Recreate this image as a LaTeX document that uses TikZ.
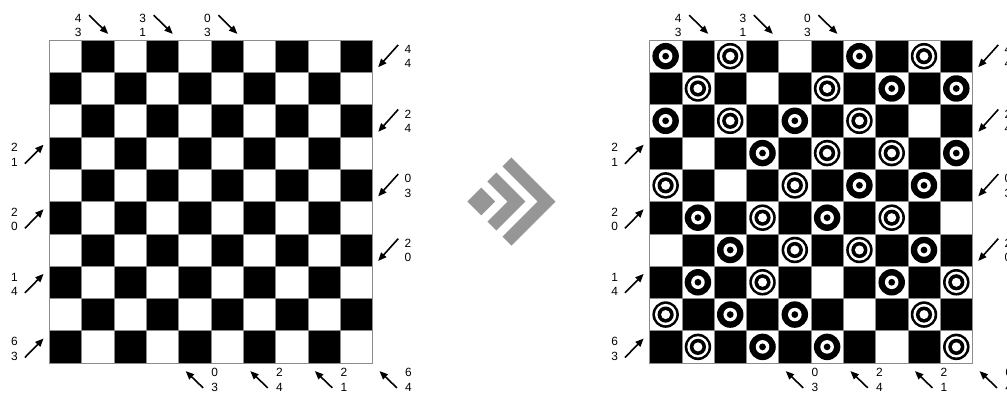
\documentclass[tikz,border=0pt]{standalone}
\usepackage{fontspec}
\setmainfont{Liberation Sans}
\usetikzlibrary{arrows.meta}
\definecolor{chevgray}{RGB}{150,150,150}
\definecolor{gridgray}{RGB}{140,140,140}

\begin{document}
\begin{tikzpicture}[
    x=1cm, y=1cm,
    cell/.style={draw=gridgray, line width=0.4pt, minimum size=1cm, inner sep=0pt, outer sep=0pt},
    darkcell/.style={cell, fill=black},
    lightcell/.style={cell, fill=white},
    digits/.style={font=\fontsize{10.5}{12.8}\selectfont, align=center, inner sep=0pt},
    arrow/.style={-{Triangle[length=2.6mm,width=2.1mm]}, line width=1.4pt},
    dotpiece/.pic={
      \fill[black] (0,0) circle (0.41);
      \fill[white] (0,0) circle (0.21);
      \fill[black] (0,0) circle (0.105);
    },
    ringpiece/.pic={
      \fill[black] (0,0) circle (0.41);
      \fill[white] (0,0) circle (0.33);
      \fill[black] (0,0) circle (0.25);
      \fill[white] (0,0) circle (0.14);
    }
  ]
  \useasboundingbox (-1.53,1.24) rectangle (29.65,-10.90);

  % the two boards with their side labels
  \foreach \bd/\ox in {L/0, R/18.58} {
    \foreach \r in {0,...,9} {
      \foreach \c in {0,...,9} {
        \pgfmathtruncatemacro\odd{mod(\r+\c,2)}
        \ifnum\odd=1
          \node[darkcell] (\bd-\r-\c) at (\ox+\c+0.5,-\r-0.5) {};
        \else
          \node[lightcell] (\bd-\r-\c) at (\ox+\c+0.5,-\r-0.5) {};
        \fi
      }
    }
    \draw[gridgray, line width=0.6pt] (\bd-0-0.north west) rectangle (\bd-9-9.south east);

    % top
    \foreach \txt [count=\i from 0] in {{4\\3},{3\\1},{0\\3}} {
      \node[digits] (\bd-top\i) at (\ox+0.89+2*\i,0.45) {\txt};
      \coordinate (\bd-top\i-a) at (\ox+1.23+2*\i,0.77);
      \coordinate (\bd-top\i-b) at (\ox+1.82+2*\i,0.19);
      \draw[arrow] (\bd-top\i-a) -- (\bd-top\i-b);
    }
    % right
    \foreach \txt [count=\i from 0] in {{4\\4},{2\\4},{0\\3},{2\\0}} {
      \node[digits] (\bd-rgt\i) at (\ox+11.1,-0.51-2*\i) {\txt};
      \coordinate (\bd-rgt\i-a) at (\ox+10.8,-0.15-2*\i);
      \coordinate (\bd-rgt\i-b) at (\ox+10.18,-0.84-2*\i);
      \draw[arrow] (\bd-rgt\i-a) -- (\bd-rgt\i-b);
    }
    % left
    \foreach \txt [count=\i from 0] in {{2\\1},{2\\0},{1\\4},{6\\3}} {
      \node[digits] (\bd-lft\i) at (\ox-1.08,-3.56-2*\i) {\txt};
      \coordinate (\bd-lft\i-a) at (\ox-0.76,-3.83-2*\i);
      \coordinate (\bd-lft\i-b) at (\ox-0.18,-3.24-2*\i);
      \draw[arrow] (\bd-lft\i-a) -- (\bd-lft\i-b);
    }
    % bottom
    \foreach \txt [count=\i from 0] in {{0\\3},{2\\4},{2\\1},{6\\4}} {
      \node[digits] (\bd-bot\i) at (\ox+5.12+2*\i,-10.52) {\txt};
      \coordinate (\bd-bot\i-a) at (\ox+4.76+2*\i,-10.77);
      \coordinate (\bd-bot\i-b) at (\ox+4.22+2*\i,-10.25);
      \draw[arrow] (\bd-bot\i-a) -- (\bd-bot\i-b);
    }
  }

  % pieces on the right board
  \foreach \r/\c in {0/0,0/6,1/7,1/9,2/0,2/4,3/3,3/9,4/6,4/8,5/1,5/5,6/2,6/8,7/1,7/7,8/2,8/4,9/3,9/5}
    \pic at (R-\r-\c) {dotpiece};
  \foreach \r/\c in {0/2,0/8,1/1,1/5,2/2,2/6,3/5,3/7,4/0,4/4,5/3,5/7,6/4,6/6,7/3,7/9,8/0,8/8,9/1,9/9}
    \pic at (R-\r-\c) {ringpiece};

  % chevron between the boards
  \begin{scope}[shift={(12.94,-5.0)}, rotate=-45]
    \fill[chevgray] (0,0) rectangle (0.61,0.61);
    \fill[chevgray] (0,0.88) -- (0,1.27) -- (1.27,1.27) -- (1.27,0) -- (0.88,0) -- (0.88,0.88) -- cycle;
    \fill[chevgray] (0,1.54) -- (0,1.93) -- (1.93,1.93) -- (1.93,0) -- (1.54,0) -- (1.54,1.54) -- cycle;
  \end{scope}
\end{tikzpicture}
\end{document}
